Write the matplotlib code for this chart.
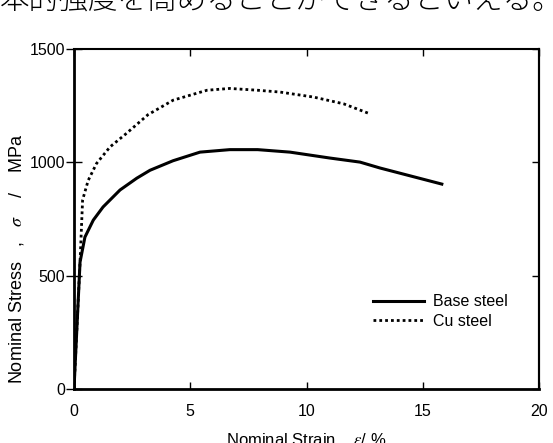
import numpy as np
import matplotlib.pyplot as plt

plt.rcParams['font.family'] = ['Liberation Sans', 'DejaVu Sans']
plt.rcParams['mathtext.fontset'] = 'stix'

# nominal stress-strain curves (strain in %, stress in MPa)
base_strain = [0, 0.26, 0.47, 0.83, 1.25, 1.98, 2.7, 3.27, 4.26, 5.42, 6.7, 7.9, 9.29, 11.0, 12.3, 13.16, 15.82]
base_stress = [0, 560, 670, 745, 803, 878, 930, 965, 1007, 1045, 1056, 1056, 1045, 1019, 1001, 975, 904]

cu_strain = [0, 0.26, 0.37, 0.61, 0.97, 1.55, 2.26, 3.18, 4.26, 5.72, 6.7, 7.9, 8.86, 10.3, 11.6, 12.7]
cu_stress = [0, 560, 834, 920, 995, 1068, 1128, 1210, 1274, 1318, 1326, 1318, 1310, 1288, 1258, 1215]

labels = ['Base steel', 'Cu steel']
xticks = [0, 5, 10, 15, 20]
yticks = [0, 500, 1000, 1500]

fig = plt.figure(figsize=(5.53, 4.43), dpi=100)
ax = fig.add_axes([0.1338, 0.1219, 0.8409, 0.7675])

ax.plot(base_strain, base_stress, color='black', lw=2.2, label=labels[0])
ax.plot(cu_strain, cu_stress, color='black', lw=2.0, linestyle=(0, (1, 1.1)), label=labels[1])

ax.set_xlim(0, 20)
ax.set_ylim(0, 1500)
ax.set_xticks(xticks)
ax.set_yticks(yticks)
for s in ax.spines.values():
    s.set_linewidth(1.5)
ax.spines['left'].set_linewidth(2)
ax.spines['bottom'].set_linewidth(2)

ax.tick_params(axis='x', direction='in', top=True, length=5, width=1, labelsize=11.5, pad=11)
ax.tick_params(axis='y', direction='inout', left=True, right=False, length=12, width=1,
               labelsize=11.5, pad=0.5)
sec = ax.secondary_yaxis('right')
sec.set_yticks(yticks)
sec.tick_params(direction='in', length=5, width=1, labelright=False)
sec.spines['right'].set_linewidth(1.5)

ax.set_xlabel('Nominal Strain ,  $\\varepsilon$/ %', fontsize=12)
ax.xaxis.set_label_coords(0.5, -0.124)
ax.set_ylabel('Nominal Stress   ,   $\\sigma$    /    MPa', fontsize=13)
ax.yaxis.set_label_coords(-0.103, 0.382)

ax.legend(loc='upper left', bbox_to_anchor=(0.643, 0.279), frameon=False,
          fontsize=11.5, handlelength=3.2, handletextpad=0.56, labelspacing=0.3,
          borderpad=0, borderaxespad=0)

fig.text(0.0, 1 - 17 / 443, '本的強度を高めることができるといえる。', fontsize=21.3,
         family=['Noto Sans CJK JP', 'DejaVu Sans'], fontweight='light', va='bottom', ha='left')

fig.savefig('out.png', dpi=100)
